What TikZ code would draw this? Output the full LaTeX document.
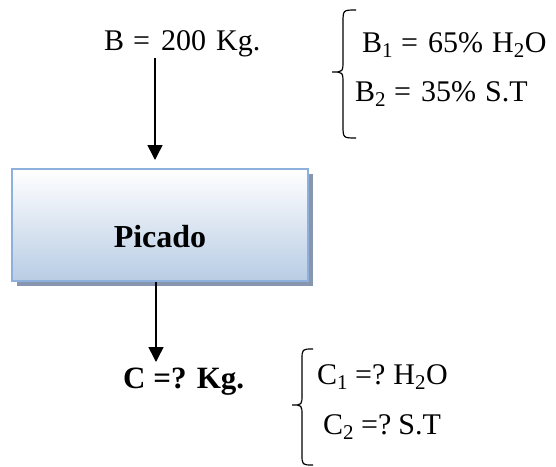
\documentclass[tikz,border=0pt]{standalone}
\usepackage{fontspec}
\setmainfont{Liberation Serif}
\usetikzlibrary{arrows.meta,shadows}
\definecolor{boxborder}{HTML}{8EB0DC}
\definecolor{boxbot}{HTML}{B8CCE4}
\definecolor{boxshadow}{HTML}{8796AE}
\begin{document}
\begin{tikzpicture}[x=1pt,y=-1pt,
  reg/.style={font=\fontsize{30}{36}\selectfont, inner sep=0pt, anchor=base west},
  bld/.style={font=\fontsize{31}{36}\selectfont\bfseries, inner sep=0pt, anchor=base west},
  procbox/.style={draw=boxborder, line width=2.5pt, top color=white, bottom color=boxbot,
    minimum width=296pt, minimum height=112pt, inner sep=0pt,
    font=\fontsize{32}{38}\selectfont\bfseries, text height=44pt, text depth=0pt,
    drop shadow={shadow xshift=5pt, shadow yshift=-5pt, fill=boxshadow, opacity=1}},
  arr/.style={line width=1.5pt, -{Triangle[width=15pt,length=15pt]}},
  brc/.style={line width=1.2pt}]
\useasboundingbox (0,0) rectangle (556,466);

% process box
\node[procbox] (box) at (160,225) {Picado};

% input text
\node[reg] (btext) at (104,50) {B\hspace{9pt}=\hspace{11pt}200\hspace{10pt}Kg.};
\node[reg] (b1) at (362,52) {B\textsubscript{1}\hspace{8pt}=\hspace{10pt}65\%\hspace{9pt}H\textsubscript{2}O};
\node[reg] (b2) at (355,101) {B\textsubscript{2}\hspace{8pt}=\hspace{10pt}35\%\hspace{9pt}S.T};

% output text
\node[bld] (ctext) at (123,388) {C =? Kg.};
\node[reg] (c1) at (317,384) {C\textsubscript{1}\hspace{7pt}=?\hspace{8pt}H\textsubscript{2}O};
\node[reg] (c2) at (323,434) {C\textsubscript{2}\hspace{7pt}=?\hspace{7pt}S.T};

% arrows
\coordinate (a1s) at (155,58);
\coordinate (a1e) at (155,160);
\draw[arr] (a1s) -- (a1e);
\coordinate (a2s) at (box.south -| 156,0);
\coordinate (a2e) at (156,362);
\draw[arr] (a2s) -- (a2e);

% braces
\draw[brc] (356,10) .. controls (343,10) .. (343,23) -- (343,60)
  .. controls (343,72) .. (332,72) .. controls (343,72) .. (343,84)
  -- (343,125) .. controls (343,138) .. (356,138);
\draw[brc] (313,349) .. controls (302,349) .. (302,360) -- (302,394)
  .. controls (302,405) .. (292,405) .. controls (302,405) .. (302,416)
  -- (302,454) .. controls (302,465) .. (313,465);
\end{tikzpicture}
\end{document}
